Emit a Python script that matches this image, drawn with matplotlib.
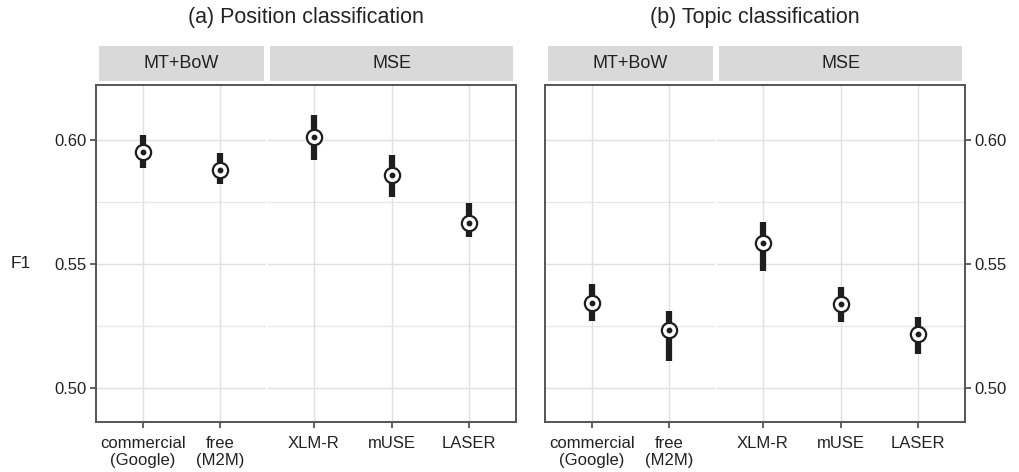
import matplotlib
matplotlib.use("Agg")
import matplotlib.pyplot as plt
import matplotlib.transforms as mtransforms
from matplotlib.patches import Rectangle
import numpy as np

plt.rcParams['font.family'] = ['Liberation Sans', 'DejaVu Sans']

# data
methods = ["commercial\n(Google)", "free\n(M2M)", "XLM-R", "mUSE", "LASER"]
groups = ["MT+BoW", "MSE"]
group_sizes = [2, 3]
titles = ["(a) Position classification", "(b) Topic classification"]

pos_f1 = [0.5952, 0.5879, 0.6012, 0.5859, 0.5665]
pos_lo = [0.5887, 0.5823, 0.5919, 0.5770, 0.5609]
pos_hi = [0.6020, 0.5948, 0.6100, 0.5940, 0.5746]

top_f1 = [0.5342, 0.5236, 0.5583, 0.5339, 0.5216]
top_lo = [0.5272, 0.5111, 0.5473, 0.5265, 0.5139]
top_hi = [0.5420, 0.5311, 0.5670, 0.5406, 0.5286]

#x positions like ggplot facets with free space (0.6 expansion each side)
xs = []
bounds = []
start = -0.6
for n in group_sizes:
    first = start + 0.6
    xs += [first + i for i in range(n)]
    bounds.append((start, start + n - 1 + 1.2))
    start = start + n - 1 + 1.2

fig = plt.figure(figsize=(10.19, 4.72), dpi=100)
W, H = 1019, 472
axes_px = [(96, 516), (545, 965)]
top_px, bot_px = 85, 422

data = [(pos_f1, pos_lo, pos_hi), (top_f1, top_lo, top_hi)]

for k, (x0, x1) in enumerate(axes_px):
    ax = fig.add_axes([x0 / W, 1 - bot_px / H, (x1 - x0) / W, (bot_px - top_px) / H])
    f1, lo, hi = data[k]

    ax.set_xlim(bounds[0][0], bounds[-1][1])
    ax.set_ylim(0.4863, 0.6222)

    # gridlines
    for v in [0.50, 0.55, 0.60]:
        ax.axhline(v, color="#e0e0e0", lw=1.0, zorder=0)
    for v in [0.525, 0.575]:
        ax.axhline(v, color="#e8e8e8", lw=1.0, zorder=0)
    for x in xs:
        ax.axvline(x, color="#e0e0e0", lw=1.0, zorder=0)
    # white gap between the two facets
    ax.axvline(bounds[0][1], color="white", lw=1.5, zorder=1)

    ax.vlines(xs, lo, hi, color="#1e1e1e", lw=4.5, zorder=3)
    ax.plot(xs, f1, "o", ms=11, mfc="white", mec="#1e1e1e", mew=1.6, zorder=4)
    ax.plot(xs, f1, "o", ms=3.2, color="#1e1e1e", zorder=5)

    ax.set_xticks(xs)
    ax.set_xticklabels(methods, fontsize=12, color="#222222", linespacing=1.2)
    ax.set_yticks([0.50, 0.55, 0.60])
    ax.set_yticklabels(["0.50", "0.55", "0.60"], fontsize=12, color="#222222")
    ax.tick_params(axis="both", length=4, width=1.3, color="#555555", pad=3)
    ax.tick_params(axis="x", pad=6)
    if k == 1:
        ax.yaxis.tick_right()
    for s in ax.spines.values():
        s.set_color("#555555")
        s.set_linewidth(1.4)

    # facet strips
    trans = mtransforms.blended_transform_factory(ax.transData, ax.transAxes)
    for (b0, b1), g in zip(bounds, groups):
        r = Rectangle((b0 + 0.035, 1.012), (b1 - b0) - 0.07, 0.104, transform=trans,
                      facecolor="#d9d9d9", edgecolor="none", clip_on=False)
        ax.add_patch(r)
        ax.text((b0 + b1) / 2, 1.064, g, transform=trans, ha="center", va="center",
                fontsize=13, color="#222222")

    fig.text((x0 + x1) / 2 / W, 1 - 18 / H, titles[k], ha="center", va="center",
             fontsize=15.5, color="#222222")

fig.text(21 / W, 1 - 264 / H, "F1", ha="center", va="center", fontsize=12.5, color="#222222")

fig.savefig("out.png", dpi=100)
